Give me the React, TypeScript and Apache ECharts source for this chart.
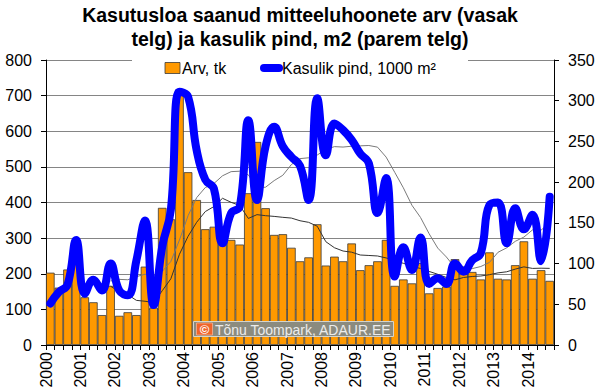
import React, { useEffect, useRef } from "react";
import * as echarts from "echarts";

// Tick labels (years) on the bottom axis
const yearLabels = ["2000","2001","2002","2003","2004","2005","2006","2007","2008","2009","2010","2011","2012","2013","2014"];
const quarterNames = ["I", "II", "III", "IV"];
// quarterly categories 2000 I ... 2014 III
const categories: string[] = [];
yearLabels.forEach((y) => quarterNames.forEach((q) => categories.push(y + " " + q)));
categories.length = 59;

// Arv, tk (left axis)
const arv = [203,161,212,240,134,120,84,166,82,92,84,220,105,385,353,717,485,407,325,332,290,295,282,426,570,384,309,311,273,235,246,339,223,248,235,285,210,224,235,295,166,184,173,230,145,160,164,241,220,205,184,260,186,184,224,291,186,210,180];
// Kasulik pind, 1000 m² (right axis)
const pind = [51,65,74,129,63,80,67,100,67,61,104,153,49,121,166,311,305,239,203,192,125,162,170,276,178,244,268,244,231,220,178,303,233,272,264,252,235,223,162,205,84,120,92,132,75,82,75,100,90,104,113,172,175,125,168,142,160,103,182];
// Thin trend line read for Arv (left axis)
const arvTrend = [null,null,null,null,null,null,null,165.0,149.9,141.3,125.3,122.8,119.1,152.3,185.9,254.8,305.1,344.5,374.6,388.6,411.8,400.5,391.6,355.3,365.9,363.0,361.0,358.4,356.3,348.8,344.3,333.4,290.0,273.0,263.8,260.5,252.6,251.3,249.9,244.4,237.3,229.3,221.5,214.6,206.5,198.5,189.6,182.9,189.6,192.3,193.6,197.4,202.5,205.5,213.0,219.3,215.0,215.6,215.1];
// Thin trend line read for Kasulik pind (right axis)
const pindTrend = [null,null,null,null,null,null,null,78.6,80.6,80.1,83.9,86.9,85.1,90.3,102.6,129.0,158.8,181.0,193.4,198.3,207.8,212.9,213.4,209.0,193.1,193.8,201.9,208.4,221.6,228.9,229.9,233.3,240.1,243.6,243.1,244.1,244.6,245.0,243.0,230.8,212.1,193.1,171.6,156.6,136.6,119.0,108.1,95.0,95.8,93.8,96.4,101.4,113.9,119.3,127.3,132.5,141.3,141.1,149.8];

const FONT = "'Liberation Sans', Arial, sans-serif";

export default function App() {
  const ref = useRef<HTMLDivElement>(null);
  useEffect(() => {
    if (!ref.current) return;
    const chart = echarts.init(ref.current, undefined, { renderer: "svg" });
    chart.setOption({
      animation: false,
      backgroundColor: "#fff",
      textStyle: { fontFamily: FONT },
      title: {
        text: "Kasutusloa saanud mitteeluhoonete arv (vasak\ntelg) ja kasulik pind, m2 (parem telg)",
        left: "center",
        top: 3,
        padding: 0,
        textStyle: { fontFamily: FONT, fontSize: 19.5, fontWeight: "bold", color: "#000", lineHeight: 24, align: "center" },
      },
      grid: { left: 46, right: 46, top: 60, bottom: 47 },
      xAxis: [
        {
          type: "category",
          data: categories,
          boundaryGap: true,
          axisLine: { show: true, onZero: false, lineStyle: { color: "#000", width: 1 } },
          axisTick: { show: true, interval: 0, alignWithLabel: false, length: 5, lineStyle: { color: "#000" } },
          axisLabel: { show: false },
          splitLine: { show: false },
        },
        {
          type: "value",
          position: "bottom",
          min: 0,
          max: 59,
          interval: 4,
          axisLine: { show: false, onZero: false },
          axisTick: { show: false },
          splitLine: { show: false },
          axisLabel: {
            rotate: 90,
            margin: 7,
            fontSize: 16,
            color: "#000",
            fontFamily: FONT,
            formatter: (v: number) => (v % 4 === 0 ? yearLabels[v / 4] ?? "" : ""),
          },
        },
      ],
      yAxis: [
        {
          type: "value",
          min: 0,
          max: 800,
          interval: 100,
          position: "left",
          axisLine: { show: true, lineStyle: { color: "#000" } },
          axisTick: { show: true, length: 5, lineStyle: { color: "#000" } },
          axisLabel: { fontSize: 16, color: "#000", margin: 14, fontFamily: FONT },
          splitLine: { show: true, lineStyle: { color: "#858585", width: 1 } },
        },
        {
          type: "value",
          min: 0,
          max: 350,
          interval: 50,
          position: "right",
          axisLine: { show: true, lineStyle: { color: "#000" } },
          axisTick: { show: true, length: 5, lineStyle: { color: "#000" } },
          axisLabel: { fontSize: 16, color: "#000", margin: 14, fontFamily: FONT },
          splitLine: { show: false },
        },
      ],
      series: [
        {
          name: "Arv, tk",
          type: "bar",
          xAxisIndex: 0,
          yAxisIndex: 0,
          data: arv,
          barCategoryGap: "0%",
          itemStyle: { color: "#FF9900", borderColor: "#3a3a3a", borderWidth: 0.8 },
          z: 2,
        },
        {
          name: "Arv trend",
          type: "line",
          xAxisIndex: 0,
          yAxisIndex: 0,
          data: arvTrend,
          symbol: "none",
          lineStyle: { color: "#333", width: 1 },
          z: 3,
        },
        {
          name: "Pind trend",
          type: "line",
          xAxisIndex: 0,
          yAxisIndex: 1,
          data: pindTrend,
          symbol: "none",
          lineStyle: { color: "#7a7a7a", width: 1 },
          z: 3,
        },
        {
          name: "Kasulik pind, 1000 m²",
          type: "line",
          xAxisIndex: 0,
          yAxisIndex: 1,
          data: pind,
          symbol: "none",
          smooth: 0.45,
          lineStyle: { color: "#0000FF", width: 8, cap: "round", join: "round" },
          z: 5,
        },
      ],
      graphic: {
        elements: [
          { id: "lgbg", type: "rect", z: 100, shape: { x: 132, y: 53, width: 336, height: 27 }, style: { fill: "#fff" } },
          { id: "lg1", type: "rect", z: 101, shape: { x: 165, y: 62.5, width: 15, height: 11 }, style: { fill: "#FF9900", stroke: "#3a3a3a", lineWidth: 0.8 } },
          { id: "lg1t", type: "text", z: 101, x: 182, y: 68, style: { text: "Arv, tk", font: "16px " + FONT, fill: "#000", verticalAlign: "middle" } },
          { id: "lg2", type: "line", z: 101, shape: { x1: 264, y1: 68, x2: 279, y2: 68 }, style: { stroke: "#0000FF", lineWidth: 8, lineCap: "round" } },
          { id: "lg2t", type: "text", z: 101, x: 282, y: 68, style: { text: "Kasulik pind, 1000 m²", font: "16px " + FONT, fill: "#000", verticalAlign: "middle" } },
          { id: "wmbg", type: "rect", z: 100, shape: { x: 193.5, y: 321.5, width: 200, height: 15 }, style: { fill: "#8b8b7f", stroke: "#d4d4cc", lineWidth: 1 } },
          { id: "wmico", type: "rect", z: 101, shape: { x: 196.5, y: 323, width: 16, height: 12 }, style: { fill: "#f0642a", stroke: "#f8b090", lineWidth: 0.8 } },
          { id: "wmc", type: "text", z: 102, x: 204.5, y: 329.5, style: { text: "©", font: "bold 13px " + FONT, fill: "#fff", align: "center", verticalAlign: "middle" } },
          { id: "wmt", type: "text", z: 102, x: 215, y: 329.5, style: { text: "Tõnu Toompark, ADAUR.EE", font: "14px " + FONT, fill: "#ececec", verticalAlign: "middle" } },
        ],
      },
    });
    return () => chart.dispose();
  }, []);
  return <div ref={ref} style={{ position: "fixed", left: 0, top: 0, width: 600, height: 392 }} />;
}
